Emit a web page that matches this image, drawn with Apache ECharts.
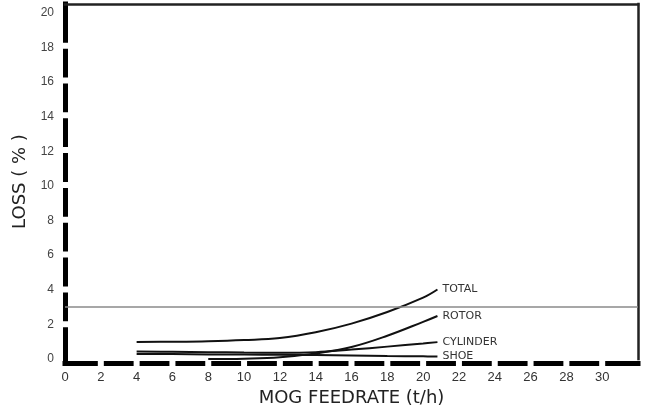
<!DOCTYPE html>
<html><head><meta charset="utf-8">
<script src="https://cdn.jsdelivr.net/npm/echarts@6/dist/echarts.min.js"></script>
<style>html,body{margin:0;padding:0;background:#fff}#c{width:646px;height:412px}</style>
</head><body><div id="c"></div>
<script>
// ---- data ----
const feedrate = [4, 6, 8, 10, 12, 14, 16, 18, 20, 20.8];
const total    = [0.99, 1.0, 1.03, 1.1, 1.22, 1.55, 2.05, 2.72, 3.55, 4.02];
const rotor    = [null, null, 0, 0.02, 0.1, 0.33, 0.7, 1.35, 2.15, 2.49];
const cylinder = [0.44, 0.42, 0.4, 0.38, 0.37, 0.4, 0.55, 0.72, 0.9, 0.98];
const shoe     = [0.3, 0.29, 0.27, 0.26, 0.25, 0.23, 0.21, 0.18, 0.16, 0.15];
const seriesNames = ['TOTAL', 'ROTOR', 'CYLINDER', 'SHOE'];
const limitLoss = 3;
const xTickLabels = [0, 2, 4, 6, 8, 10, 12, 14, 16, 18, 20, 22, 24, 26, 28, 30];
const yTickLabels = [0, 2, 4, 6, 8, 10, 12, 14, 16, 18, 20];

// ---- layout ----
const W = 646, H = 412;
const G = { left: 65, right: 8, top: 4, bottom: 51 };
const X_MAX = 32, Y_MAX = 20.5;
const xs = (W - G.left - G.right) / X_MAX;
const ys = (H - G.top - G.bottom) / Y_MAX;

// dashed axis with gaps centred on ticks (square caps add 2.5px to each dash end)
function dashes(scale, gapTicks, visGap, capW) {
  const g = visGap + capW;
  const p = 2 * scale;
  const arr = [p - g / 2];
  for (let i = 0; i < gapTicks; i++) {
    arr.push(g);
    arr.push(i === gapTicks - 1 ? 2000 : p - g);
  }
  arr.push(0);
  return arr;
}

const pair = arr => feedrate.map((x, i) => [x, arr[i]]).filter(p => p[1] !== null);
const dataSets = [total, rotor, cylinder, shoe];

const labelFont = 'Liberation Sans, Arial, sans-serif';
const chart = echarts.init(document.getElementById('c'), null, { renderer: 'canvas' });

const series = dataSets.map((d, i) => ({
  name: seriesNames[i],
  type: 'line',
  data: pair(d),
  smooth: 0.4,
  showSymbol: false,
  symbol: 'none',
  lineStyle: { color: '#111', width: 2 },
  endLabel: {
    show: true,
    formatter: p => p.seriesName,
    distance: 5,
    fontSize: 11,
    fontFamily: 'DejaVu Sans, sans-serif',
    color: '#333'
  },
  silent: true,
  z: 3
}));
series[0].markLine = {
  silent: true,
  symbol: 'none',
  label: { show: false },
  lineStyle: { color: '#8a8a8a', width: 1.5, type: 'solid' },
  data: [{ yAxis: limitLoss }]
};

chart.setOption({
  animation: false,
  backgroundColor: '#fff',
  grid: { left: G.left, right: G.right, top: G.top, bottom: G.bottom },
  xAxis: [{
    type: 'value', min: 0, max: X_MAX, interval: 2,
    offset: 4,
    name: 'MOG FEEDRATE (t/h)', nameLocation: 'middle', nameGap: 25,
    nameTextStyle: { fontSize: 18, fontFamily: 'DejaVu Sans, sans-serif', color: '#222' },
    axisLine: { show: true, onZero: false, lineStyle: { color: '#000', width: 5, cap: 'square', type: dashes(xs, 15, 6, 5) } },
    axisTick: { show: false },
    splitLine: { show: false },
    axisLabel: {
      margin: 8, fontSize: 13, fontFamily: labelFont, color: '#333',
      formatter: v => (xTickLabels.indexOf(v) >= 0 ? String(v) : '')
    }
  }, {
    type: 'value', min: 0, max: X_MAX, position: 'top',
    axisLine: { show: true, onZero: false, lineStyle: { color: '#222', width: 2.5, cap: 'square' } },
    axisTick: { show: false }, axisLabel: { show: false }, splitLine: { show: false }
  }],
  yAxis: [{
    type: 'value', min: 0, max: Y_MAX, interval: 2,
    name: 'LOSS ( % )', nameLocation: 'middle', nameGap: 29,
    nameTextStyle: { fontSize: 18, fontFamily: 'DejaVu Sans, sans-serif', color: '#222' },
    axisLine: { show: true, onZero: false, lineStyle: { color: '#000', width: 5, cap: 'square', type: dashes(ys, 9, 6, 5) } },
    axisTick: { show: false },
    splitLine: { show: false },
    axisLabel: {
      margin: 11, fontSize: 12, fontFamily: labelFont, color: '#444',
      formatter: v => (yTickLabels.indexOf(v) >= 0 ? String(v) : '')
    }
  }, {
    type: 'value', min: 0, max: Y_MAX, position: 'right',
    axisLine: { show: true, onZero: false, lineStyle: { color: '#222', width: 2.5, cap: 'square' } },
    axisTick: { show: false }, axisLabel: { show: false }, splitLine: { show: false }
  }],
  series: series
});
</script>
</body></html>
